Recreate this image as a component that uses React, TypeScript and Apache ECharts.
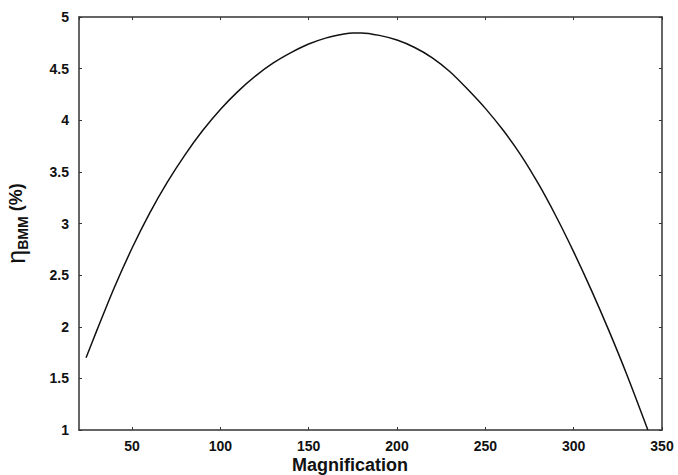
import React, { useEffect, useRef } from "react";
import * as echarts from "echarts";

const magnification = [24, 30, 40, 50, 60, 70, 80, 90, 100, 110, 120, 130, 140, 150, 160, 170, 175, 180, 190, 200, 210, 220, 230, 240, 250, 260, 270, 280, 290, 300, 310, 320, 330, 342];
const efficiency = [1.70, 1.96, 2.38, 2.76, 3.10, 3.40, 3.665, 3.90, 4.105, 4.28, 4.43, 4.555, 4.655, 4.738, 4.798, 4.836, 4.846, 4.846, 4.822, 4.777, 4.705, 4.605, 4.47, 4.30, 4.115, 3.905, 3.665, 3.385, 3.07, 2.725, 2.355, 1.96, 1.54, 1.0];

const xMin = 20;
const xMax = 350;
const yMin = 1;
const yMax = 5;
const yStep = 0.5;

const xTitle = "Magnification";

const FONT = "'Liberation Sans', Arial, Helvetica, sans-serif";
const AXIS_COLOR = "#333";

export default function App() {
  const ref = useRef<HTMLDivElement>(null);
  useEffect(() => {
    if (!ref.current) return;
    document.body.style.margin = "0";
    const chart = echarts.init(ref.current, undefined, { renderer: "svg" });
    const axisLine = { show: true, onZero: false, lineStyle: { color: AXIS_COLOR, width: 1.5 } };
    const axisTick = { show: true, inside: true, length: 3, lineStyle: { color: AXIS_COLOR, width: 1 } };
    const label = { color: "#111", fontFamily: FONT, fontWeight: "bold" as const, fontSize: 14 };
    chart.setOption({
      animation: false,
      backgroundColor: "#fff",
      grid: { left: 79, top: 17, right: 16, bottom: 45, containLabel: false, outerBoundsMode: "none" },
      xAxis: [
        {
          type: "value",
          min: xMin,
          max: xMax,
          position: "bottom",
          axisLine,
          axisTick,
          splitLine: { show: false },
          axisLabel: { ...label, margin: 9, showMinLabel: false },
        },
        {
          type: "value",
          min: xMin,
          max: xMax,
          position: "top",
          axisLine,
          axisTick,
          splitLine: { show: false },
          axisLabel: { show: false },
        },
      ],
      yAxis: [
        {
          type: "value",
          min: yMin,
          max: yMax,
          interval: yStep,
          position: "left",
          axisLine,
          axisTick,
          splitLine: { show: false },
          axisLabel: { ...label, margin: 10 },
          name: "{eta|η}{sub|BMM}{pc| (%)}",
          nameLocation: "middle",
          nameGap: 49,
          nameRotate: 90,
          nameTextStyle: {
            rich: {
              eta: { fontFamily: FONT, fontSize: 25, color: "#111", lineHeight: 28, verticalAlign: "middle" },
              sub: { fontFamily: FONT, fontSize: 14, fontWeight: "bold", color: "#111", lineHeight: 14, verticalAlign: "bottom" },
              pc: { fontFamily: FONT, fontSize: 18, fontWeight: "bold", color: "#111", lineHeight: 28, verticalAlign: "middle" },
            },
          },
        },
        {
          type: "value",
          min: yMin,
          max: yMax,
          interval: yStep,
          position: "right",
          axisLine,
          axisTick,
          splitLine: { show: false },
          axisLabel: { show: false },
        },
      ],
      graphic: [
        {
          type: "text",
          x: 350,
          y: 465,
          style: {
            text: xTitle,
            fontFamily: FONT,
            fontWeight: "bold",
            fontSize: 18,
            fill: "#111",
            align: "center",
            verticalAlign: "middle",
          },
        },
      ],
      series: [
        {
          type: "line",
          xAxisIndex: 0,
          yAxisIndex: 0,
          data: magnification.map((m, i) => [m, efficiency[i]]),
          showSymbol: false,
          smooth: 0.3,
          lineStyle: { color: "#111", width: 1.5 },
        },
      ],
    });
    return () => chart.dispose();
  }, []);
  return <div ref={ref} style={{ width: 678, height: 475 }} />;
}
